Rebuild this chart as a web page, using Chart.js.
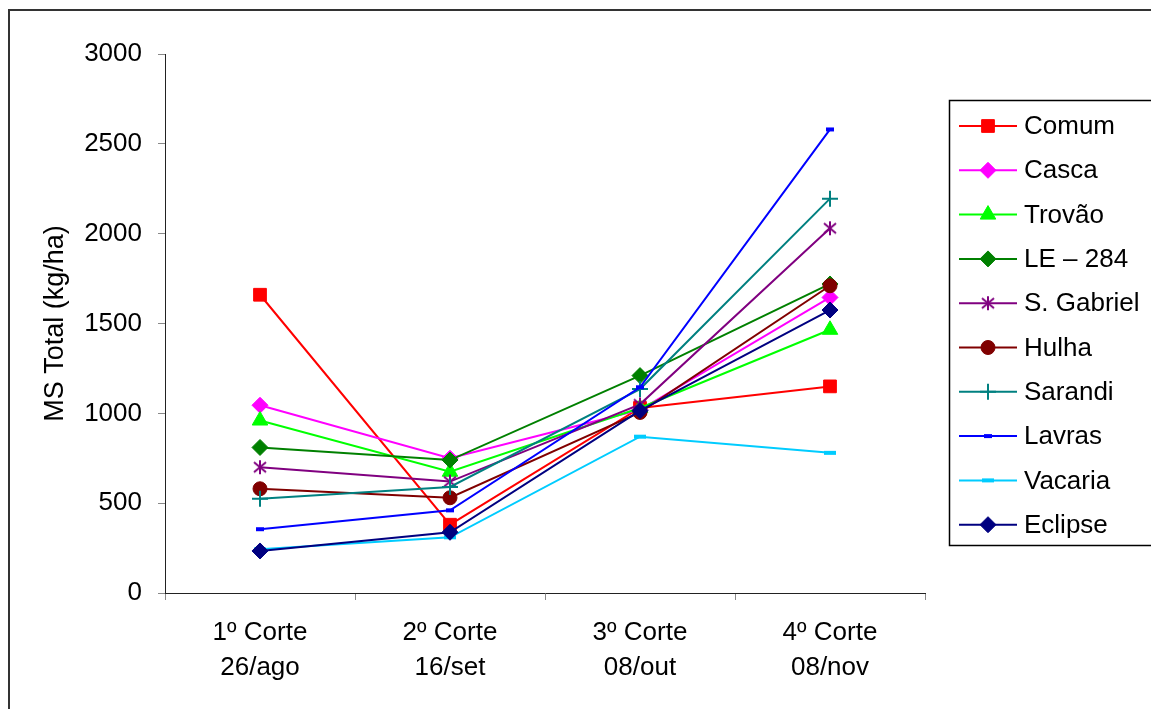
<!DOCTYPE html>
<html lang="pt">
<head>
    <meta charset="UTF-8">
    <title>MS Total</title>
    <script src="https://cdn.jsdelivr.net/npm/chart.js"></script>
    <style>
        html, body { margin: 0; padding: 0; background: #fff; }
        #wrap { width: 1151px; height: 709px; }
    </style>
</head>
<body>
    <div id="wrap"><canvas id="myChart" width="1151" height="709"></canvas></div>
    <script>
        // dados
        const cortes = [["1º Corte", "26/ago"], ["2º Corte", "16/set"], ["3º Corte", "08/out"], ["4º Corte", "08/nov"]];
        const comum     = [1660, 380, 1030, 1150];
        const casca     = [1045, 750, 1020, 1645];
        const trovao    = [960, 675, 1030, 1465];
        const le284     = [810, 740, 1210, 1720];
        const sGabriel  = [700, 620, 1050, 2030];
        const hulha     = [580, 530, 1005, 1710];
        const sarandi   = [525, 590, 1135, 2195];
        const lavras    = [355, 460, 1145, 2580];
        const vacaria   = [243, 310, 870, 780];
        const eclipse   = [234, 338, 1015, 1575];
        const yTicks    = [0, 500, 1000, 1500, 2000, 2500, 3000];

        const fonte = "'Liberation Sans', Arial, sans-serif";

        // asterisco de 6 pontas (S. Gabriel)
        function asterisco(cor) {
            const c = document.createElement('canvas');
            c.width = 16; c.height = 16;
            const g = c.getContext('2d');
            g.strokeStyle = cor;
            g.lineWidth = 2;
            g.beginPath();
            g.moveTo(8, 1); g.lineTo(8, 15);
            g.moveTo(2, 3); g.lineTo(14, 13);
            g.moveTo(14, 3); g.lineTo(2, 13);
            g.stroke();
            return c;
        }

        function serie(label, data, cor, estilo, raio, borda) {
            return {
                label: label,
                data: data,
                borderColor: cor,
                backgroundColor: cor,
                borderWidth: 2,
                pointStyle: estilo,
                pointRadius: raio,
                pointHoverRadius: raio,
                pointBackgroundColor: cor,
                pointBorderColor: cor,
                pointBorderWidth: borda,
                tension: 0,
                fill: false
            };
        }

        const datasets = [
            serie('Comum', comum, '#FF0000', 'rect', 9, 1),
            serie('Casca', casca, '#FF00FF', 'rectRot', 8, 1),
            serie('Trovão', trovao, '#00FF00', 'triangle', 9, 1),
            serie('LE – 284', le284, '#008000', 'rectRot', 8, 1),
            serie('S. Gabriel', sGabriel, '#800080', asterisco('#800080'), 8, 1),
            serie('Hulha', hulha, '#800000', 'circle', 7, 1),
            serie('Sarandi', sarandi, '#008080', 'cross', 8, 2),
            serie('Lavras', lavras, '#0000FF', 'line', 4, 4),
            serie('Vacaria', vacaria, '#00CCFF', 'line', 6, 4),
            serie('Eclipse', eclipse, '#000080', 'rectRot', 8, 1)
        ];
        // Excel desenha as últimas séries por cima
        datasets.forEach((d, i) => { d.order = datasets.length - i; });

        const molduraELegenda = {
            id: 'molduraELegenda',
            afterDraw(chart) {
                const ctx = chart.ctx;
                ctx.save();
                ctx.strokeStyle = '#333';
                ctx.lineWidth = 2;
                ctx.strokeRect(9, 10, 1200, 800);

                ctx.strokeStyle = '#000';
                ctx.lineWidth = 1.5;
                ctx.strokeRect(949.5, 100.5, 260, 445);

                ctx.font = '26px ' + fonte;
                ctx.textBaseline = 'middle';
                ctx.textAlign = 'left';
                chart.data.datasets.forEach((ds, i) => {
                    const y = 126 + i * 44.3;
                    ctx.strokeStyle = ds.borderColor;
                    ctx.lineWidth = 2;
                    ctx.beginPath();
                    ctx.moveTo(959, y);
                    ctx.lineTo(1017, y);
                    ctx.stroke();
                    const opts = chart.getDatasetMeta(i).data[0].options;
                    ctx.fillStyle = ds.borderColor;
                    ctx.strokeStyle = ds.borderColor;
                    ctx.lineWidth = opts.borderWidth;
                    Chart.helpers.drawPoint(ctx, opts, 988, y);
                    ctx.fillStyle = '#000';
                    ctx.fillText(ds.label, 1024, y + 1);
                });
                ctx.restore();
            }
        };

        const ctx = document.getElementById('myChart').getContext('2d');
        const myChart = new Chart(ctx, {
            type: 'line',
            data: { labels: cortes, datasets: datasets },
            options: {
                responsive: false,
                animation: false,
                events: [],
                layout: { padding: { left: 0, top: 54, right: 226, bottom: 0 } },
                plugins: { legend: { display: false }, tooltip: { enabled: false } },
                scales: {
                    x: {
                        offset: true,
                        grid: { offset: true, drawOnChartArea: false, drawTicks: true, tickLength: 7, color: '#888' },
                        border: { color: '#222', width: 1 },
                        ticks: { color: '#000', font: { family: fonte, size: 26, lineHeight: 1.35 }, padding: 15, maxRotation: 0 },
                        afterFit(s) { s.height = 116; }
                    },
                    y: {
                        min: 0,
                        max: 3000,
                        afterBuildTicks(s) { s.ticks = yTicks.map(v => ({ value: v })); },
                        grid: { drawOnChartArea: false, drawTicks: true, tickLength: 7, color: '#888' },
                        border: { color: '#222', width: 1 },
                        ticks: {
                            color: '#000',
                            font: { family: fonte, size: 26 },
                            padding: 16,
                            callback: v => String(v)
                        },
                        title: {
                            display: true,
                            text: 'MS Total (kg/ha)',
                            color: '#000',
                            font: { family: fonte, size: 27 },
                            padding: { top: 39, bottom: 0 }
                        },
                        afterFit(s) { s.width = 165; }
                    }
                }
            },
            plugins: [molduraELegenda]
        });
    </script>
</body>
</html>
